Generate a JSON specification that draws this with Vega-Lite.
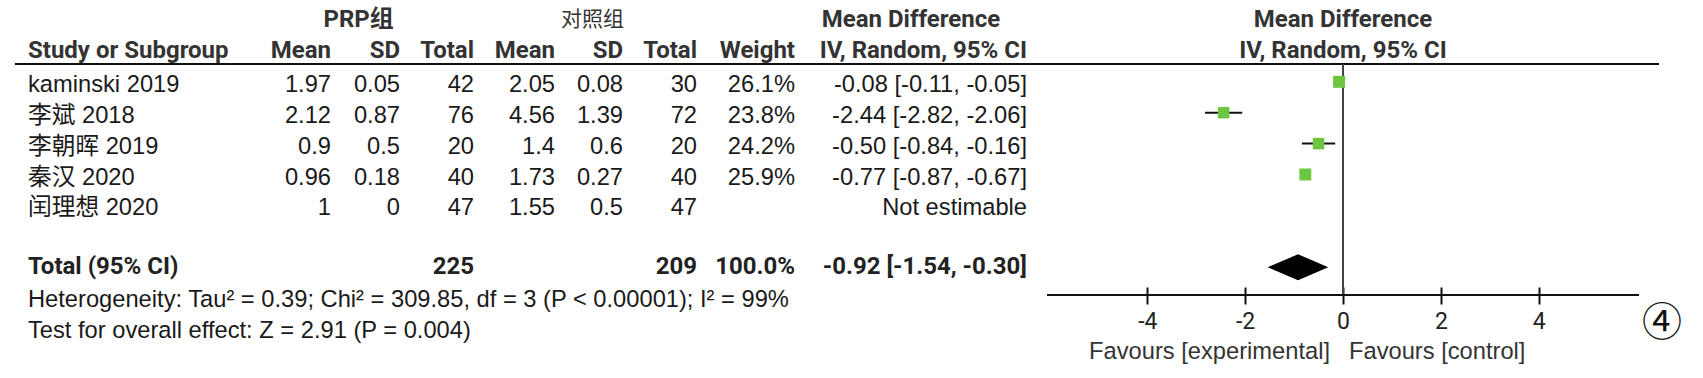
{
  "$schema": "https://vega.github.io/schema/vega-lite/v6.json",
  "width": 1703,
  "height": 287,
  "padding": {"left": 0, "top": 0, "right": 0, "bottom": 91},
  "autosize": {"type": "none"},
  "background": "#ffffff",
  "config": {
    "view": {"stroke": null},
    "text": {"font": "Liberation Sans, Arial, Noto Sans CJK SC, sans-serif", "fontSize": 23.7, "color": "#1a1a1a", "baseline": "middle"}
  },
  "datasets": {
    "one": [{"k": 1}],
    "studies": [
      {"row": 2, "study": "kaminski 2019", "m1": "1.97", "sd1": "0.05", "n1": 42, "m2": "2.05", "sd2": "0.08", "n2": 30, "weight": 0.261, "ci": "-0.08 [-0.11, -0.05]", "md": -0.08, "lo": -0.11, "hi": -0.05},
      {"row": 3, "study": "李斌 2018", "m1": "2.12", "sd1": "0.87", "n1": 76, "m2": "4.56", "sd2": "1.39", "n2": 72, "weight": 0.238, "ci": "-2.44 [-2.82, -2.06]", "md": -2.44, "lo": -2.82, "hi": -2.06},
      {"row": 4, "study": "李朝晖 2019", "m1": "0.9", "sd1": "0.5", "n1": 20, "m2": "1.4", "sd2": "0.6", "n2": 20, "weight": 0.242, "ci": "-0.50 [-0.84, -0.16]", "md": -0.50, "lo": -0.84, "hi": -0.16},
      {"row": 5, "study": "秦汉 2020", "m1": "0.96", "sd1": "0.18", "n1": 40, "m2": "1.73", "sd2": "0.27", "n2": 40, "weight": 0.259, "ci": "-0.77 [-0.87, -0.67]", "md": -0.77, "lo": -0.87, "hi": -0.67},
      {"row": 6, "study": "闰理想 2020", "m1": "1", "sd1": "0", "n1": 47, "m2": "1.55", "sd2": "0.5", "n2": 47, "weight": null, "ci": "Not estimable", "md": null, "lo": null, "hi": null}
    ],
    "total": [
      {"row": 8, "label": "Total (95% CI)", "n1": 225, "n2": 209, "weight": 1.0, "ci": "-0.92 [-1.54, -0.30]", "md": -0.92, "lo": -1.54, "hi": -0.30}
    ],
    "diamond": [
      {"md": -1.54, "top": 8, "bottom": 8},
      {"md": -0.92, "top": 7.58, "bottom": 8.42},
      {"md": -0.30, "top": 8, "bottom": 8}
    ],
    "notes": [
      {"row": 9, "text": "Heterogeneity: Tau² = 0.39; Chi² = 309.85, df = 3 (P < 0.00001); I² = 99%"},
      {"row": 10, "text": "Test for overall effect: Z = 2.91 (P = 0.004)"}
    ]
  },
  "layer": [
    {
      "layer": [
        {"data": {"name": "one"}, "mark": {"type": "rule", "color": "#111111", "strokeWidth": 2},
         "encoding": {"x": {"datum": -1, "type": "quantitative", "scale": {"domain": [-1,0,1,2,3,4,5,6,7,8,9,10], "range": [15,28,331,400,474,555,623,697,795,1027,1659,1662], "nice": false, "zero": false}, "axis": null},
                      "x2": {"datum": 9},
                      "y": {"datum": 1.42, "type": "quantitative", "scale": {"domain": [0, 10], "range": [20, 329], "nice": false, "zero": false}, "axis": null}}},
        {"data": {"name": "one"}, "mark": {"type": "text", "font": "Roboto, Liberation Sans, Noto Sans CJK SC, sans-serif", "fontWeight": "bold", "fontSize": 24, "color": "#333333", "align": "center"},
         "encoding": {"x": {"datum": 1.4, "type": "quantitative", "axis": null}, "y": {"datum": 0, "type": "quantitative", "axis": null}, "text": {"value": "PRP组"}}},
        {"data": {"name": "one"}, "mark": {"type": "text", "font": "Noto Sans CJK SC, sans-serif", "fontWeight": "normal", "fontSize": 21, "color": "#333333", "align": "center"},
         "encoding": {"x": {"datum": 4.55, "type": "quantitative", "axis": null}, "y": {"datum": 0, "type": "quantitative", "axis": null}, "text": {"value": "对照组"}}},
        {"data": {"name": "one"}, "mark": {"type": "text", "font": "Roboto, Liberation Sans, sans-serif", "fontWeight": "bold", "fontSize": 24, "color": "#333333", "align": "center"},
         "encoding": {"x": {"datum": 7.5, "type": "quantitative", "axis": null}, "y": {"datum": 0, "type": "quantitative", "axis": null}, "text": {"value": "Mean Difference"}}},
        {"data": {"name": "one"}, "mark": {"type": "text", "font": "Roboto, Liberation Sans, sans-serif", "fontWeight": "bold", "fontSize": 24, "color": "#333333", "align": "left"},
         "encoding": {"x": {"datum": 0, "type": "quantitative", "axis": null}, "y": {"datum": 1, "type": "quantitative", "axis": null}, "text": {"value": "Study or Subgroup"}}},
        {"data": {"name": "one"}, "mark": {"type": "text", "font": "Roboto, Liberation Sans, sans-serif", "fontWeight": "bold", "fontSize": 24, "color": "#333333", "align": "right"},
         "encoding": {"x": {"datum": 1, "type": "quantitative", "axis": null}, "y": {"datum": 1, "type": "quantitative", "axis": null}, "text": {"value": "Mean"}}},
        {"data": {"name": "one"}, "mark": {"type": "text", "font": "Roboto, Liberation Sans, sans-serif", "fontWeight": "bold", "fontSize": 24, "color": "#333333", "align": "right"},
         "encoding": {"x": {"datum": 2, "type": "quantitative", "axis": null}, "y": {"datum": 1, "type": "quantitative", "axis": null}, "text": {"value": "SD"}}},
        {"data": {"name": "one"}, "mark": {"type": "text", "font": "Roboto, Liberation Sans, sans-serif", "fontWeight": "bold", "fontSize": 24, "color": "#333333", "align": "right"},
         "encoding": {"x": {"datum": 3, "type": "quantitative", "axis": null}, "y": {"datum": 1, "type": "quantitative", "axis": null}, "text": {"value": "Total"}}},
        {"data": {"name": "one"}, "mark": {"type": "text", "font": "Roboto, Liberation Sans, sans-serif", "fontWeight": "bold", "fontSize": 24, "color": "#333333", "align": "right"},
         "encoding": {"x": {"datum": 4, "type": "quantitative", "axis": null}, "y": {"datum": 1, "type": "quantitative", "axis": null}, "text": {"value": "Mean"}}},
        {"data": {"name": "one"}, "mark": {"type": "text", "font": "Roboto, Liberation Sans, sans-serif", "fontWeight": "bold", "fontSize": 24, "color": "#333333", "align": "right"},
         "encoding": {"x": {"datum": 5, "type": "quantitative", "axis": null}, "y": {"datum": 1, "type": "quantitative", "axis": null}, "text": {"value": "SD"}}},
        {"data": {"name": "one"}, "mark": {"type": "text", "font": "Roboto, Liberation Sans, sans-serif", "fontWeight": "bold", "fontSize": 24, "color": "#333333", "align": "right"},
         "encoding": {"x": {"datum": 6, "type": "quantitative", "axis": null}, "y": {"datum": 1, "type": "quantitative", "axis": null}, "text": {"value": "Total"}}},
        {"data": {"name": "one"}, "mark": {"type": "text", "font": "Roboto, Liberation Sans, sans-serif", "fontWeight": "bold", "fontSize": 24, "color": "#333333", "align": "right"},
         "encoding": {"x": {"datum": 7, "type": "quantitative", "axis": null}, "y": {"datum": 1, "type": "quantitative", "axis": null}, "text": {"value": "Weight"}}},
        {"data": {"name": "one"}, "mark": {"type": "text", "font": "Roboto, Liberation Sans, sans-serif", "fontWeight": "bold", "fontSize": 24, "color": "#333333", "align": "right"},
         "encoding": {"x": {"datum": 8, "type": "quantitative", "axis": null}, "y": {"datum": 1, "type": "quantitative", "axis": null}, "text": {"value": "IV, Random, 95% CI"}}},
        {"data": {"name": "studies"}, "mark": {"type": "text", "align": "left", "dy": 3},
         "encoding": {"x": {"datum": 0, "type": "quantitative", "axis": null}, "y": {"field": "row", "type": "quantitative", "axis": null}, "text": {"field": "study", "type": "nominal"}}},
        {"data": {"name": "studies"}, "mark": {"type": "text", "align": "right", "dy": 3},
         "encoding": {"x": {"datum": 1, "type": "quantitative", "axis": null}, "y": {"field": "row", "type": "quantitative", "axis": null}, "text": {"field": "m1", "type": "nominal"}}},
        {"data": {"name": "studies"}, "mark": {"type": "text", "align": "right", "dy": 3},
         "encoding": {"x": {"datum": 2, "type": "quantitative", "axis": null}, "y": {"field": "row", "type": "quantitative", "axis": null}, "text": {"field": "sd1", "type": "nominal"}}},
        {"data": {"name": "studies"}, "mark": {"type": "text", "align": "right", "dy": 3},
         "encoding": {"x": {"datum": 3, "type": "quantitative", "axis": null}, "y": {"field": "row", "type": "quantitative", "axis": null}, "text": {"field": "n1", "type": "nominal"}}},
        {"data": {"name": "studies"}, "mark": {"type": "text", "align": "right", "dy": 3},
         "encoding": {"x": {"datum": 4, "type": "quantitative", "axis": null}, "y": {"field": "row", "type": "quantitative", "axis": null}, "text": {"field": "m2", "type": "nominal"}}},
        {"data": {"name": "studies"}, "mark": {"type": "text", "align": "right", "dy": 3},
         "encoding": {"x": {"datum": 5, "type": "quantitative", "axis": null}, "y": {"field": "row", "type": "quantitative", "axis": null}, "text": {"field": "sd2", "type": "nominal"}}},
        {"data": {"name": "studies"}, "mark": {"type": "text", "align": "right", "dy": 3},
         "encoding": {"x": {"datum": 6, "type": "quantitative", "axis": null}, "y": {"field": "row", "type": "quantitative", "axis": null}, "text": {"field": "n2", "type": "nominal"}}},
        {"data": {"name": "studies"}, "transform": [{"filter": "isValid(datum.weight)"}], "mark": {"type": "text", "align": "right", "dy": 3},
         "encoding": {"x": {"datum": 7, "type": "quantitative", "axis": null}, "y": {"field": "row", "type": "quantitative", "axis": null}, "text": {"field": "weight", "type": "quantitative", "format": ".1%"}}},
        {"data": {"name": "studies"}, "mark": {"type": "text", "align": "right", "dy": 3},
         "encoding": {"x": {"datum": 8, "type": "quantitative", "axis": null}, "y": {"field": "row", "type": "quantitative", "axis": null}, "text": {"field": "ci", "type": "nominal"}}},
        {"data": {"name": "total"}, "mark": {"type": "text", "align": "left", "font": "Roboto, Liberation Sans, sans-serif", "fontWeight": "bold", "fontSize": 24, "color": "#222222"},
         "encoding": {"x": {"datum": 0, "type": "quantitative", "axis": null}, "y": {"field": "row", "type": "quantitative", "axis": null}, "text": {"field": "label", "type": "nominal"}}},
        {"data": {"name": "total"}, "mark": {"type": "text", "align": "right", "font": "Roboto, Liberation Sans, sans-serif", "fontWeight": "bold", "fontSize": 24, "color": "#222222"},
         "encoding": {"x": {"datum": 3, "type": "quantitative", "axis": null}, "y": {"field": "row", "type": "quantitative", "axis": null}, "text": {"field": "n1", "type": "nominal"}}},
        {"data": {"name": "total"}, "mark": {"type": "text", "align": "right", "font": "Roboto, Liberation Sans, sans-serif", "fontWeight": "bold", "fontSize": 24, "color": "#222222"},
         "encoding": {"x": {"datum": 6, "type": "quantitative", "axis": null}, "y": {"field": "row", "type": "quantitative", "axis": null}, "text": {"field": "n2", "type": "nominal"}}},
        {"data": {"name": "total"}, "mark": {"type": "text", "align": "right", "font": "Roboto, Liberation Sans, sans-serif", "fontWeight": "bold", "fontSize": 24, "color": "#222222"},
         "encoding": {"x": {"datum": 7, "type": "quantitative", "axis": null}, "y": {"field": "row", "type": "quantitative", "axis": null}, "text": {"field": "weight", "type": "quantitative", "format": ".1%"}}},
        {"data": {"name": "total"}, "mark": {"type": "text", "align": "right", "font": "Roboto, Liberation Sans, sans-serif", "fontWeight": "bold", "fontSize": 24, "color": "#222222"},
         "encoding": {"x": {"datum": 8, "type": "quantitative", "axis": null}, "y": {"field": "row", "type": "quantitative", "axis": null}, "text": {"field": "ci", "type": "nominal"}}},
        {"data": {"name": "notes"}, "mark": {"type": "text", "align": "left", "dy": 2},
         "encoding": {"x": {"datum": 0, "type": "quantitative", "axis": null}, "y": {"field": "row", "type": "quantitative", "axis": null}, "text": {"field": "text", "type": "nominal"}}},
        {"data": {"name": "one"}, "mark": {"type": "text", "align": "center", "font": "Noto Sans CJK SC, DejaVu Sans, sans-serif", "fontSize": 40, "color": "#111111"},
         "encoding": {"x": {"datum": 10, "type": "quantitative", "axis": null}, "y": {"datum": 9.85, "type": "quantitative", "axis": null}, "text": {"value": "④"}}}
      ]
    },
    {"data": {"name": "studies"}, "transform": [{"filter": "isValid(datum.lo)"}], "mark": {"type": "rule", "color": "#111111", "strokeWidth": 2},
     "encoding": {"x": {"field": "lo", "type": "quantitative", "scale": {"domain": [-6.05, 6.05], "range": [1047, 1639], "nice": false, "zero": false},
                        "axis": {"orient": "bottom", "domain": false, "ticks": true, "tickSize": 17, "tickWidth": 2, "tickColor": "#111111", "values": [-4, -2, 0, 2, 4], "labelExpr": "'' + datum.value", "labelFont": "Roboto, Liberation Sans, sans-serif", "labelFontSize": 23, "labelColor": "#222222", "labelPadding": 17, "labelBaseline": "middle", "grid": false, "title": null, "labelFlush": false, "labelOverlap": false}},
                  "x2": {"field": "hi"}, "y": {"field": "row", "type": "quantitative", "axis": null}}},
    {"data": {"name": "one"}, "mark": {"type": "rule", "color": "#444444", "strokeWidth": 2},
     "encoding": {"x": {"datum": 0, "type": "quantitative", "scale": {"domain": [-6.05, 6.05], "range": [1047, 1639], "nice": false, "zero": false}, "axis": null},
                  "y": {"datum": 1.42, "type": "quantitative", "axis": null}, "y2": {"datum": 8.9}}},
    {"data": {"name": "one"}, "mark": {"type": "rule", "color": "#111111", "strokeWidth": 2},
     "encoding": {"x": {"datum": -6.05, "type": "quantitative", "scale": {"domain": [-6.05, 6.05], "range": [1047, 1639], "nice": false, "zero": false}, "axis": null}, "x2": {"datum": 6.05}, "y": {"datum": 8.9, "type": "quantitative", "axis": null}}},
    {"data": {"name": "studies"}, "transform": [{"filter": "isValid(datum.md)"}], "mark": {"type": "point", "shape": "square", "filled": true, "color": "#6dc63f", "opacity": 1},
     "encoding": {"x": {"field": "md", "type": "quantitative", "scale": {"domain": [-6.05, 6.05], "range": [1047, 1639], "nice": false, "zero": false}, "axis": null}, "y": {"field": "row", "type": "quantitative", "axis": null},
                  "size": {"field": "weight", "type": "quantitative", "scale": {"domain": [0, 0.3], "range": [0, 165]}, "legend": null}}},
    {"data": {"name": "diamond"}, "mark": {"type": "area", "orient": "vertical", "color": "#000000"},
     "encoding": {"x": {"field": "md", "type": "quantitative", "scale": {"domain": [-6.05, 6.05], "range": [1047, 1639], "nice": false, "zero": false}, "axis": null}, "y": {"field": "top", "type": "quantitative", "axis": null}, "y2": {"field": "bottom"}}},
    {"data": {"name": "one"}, "mark": {"type": "text", "font": "Roboto, Liberation Sans, sans-serif", "fontWeight": "bold", "fontSize": 24, "color": "#333333", "align": "center"},
     "encoding": {"x": {"datum": 0, "type": "quantitative", "scale": {"domain": [-6.05, 6.05], "range": [1047, 1639], "nice": false, "zero": false}, "axis": null}, "y": {"datum": 0, "type": "quantitative", "axis": null}, "text": {"value": "Mean Difference"}}},
    {"data": {"name": "one"}, "mark": {"type": "text", "font": "Roboto, Liberation Sans, sans-serif", "fontWeight": "bold", "fontSize": 24, "color": "#333333", "align": "center"},
     "encoding": {"x": {"datum": 0, "type": "quantitative", "scale": {"domain": [-6.05, 6.05], "range": [1047, 1639], "nice": false, "zero": false}, "axis": null}, "y": {"datum": 1, "type": "quantitative", "axis": null}, "text": {"value": "IV, Random, 95% CI"}}},
    {"data": {"name": "one"}, "mark": {"type": "text", "align": "right", "dx": -13, "dy": -8, "color": "#333333"},
     "encoding": {"x": {"datum": 0, "type": "quantitative", "scale": {"domain": [-6.05, 6.05], "range": [1047, 1639], "nice": false, "zero": false}, "axis": null}, "y": {"datum": 11, "type": "quantitative", "axis": null}, "text": {"value": "Favours [experimental]"}}},
    {"data": {"name": "one"}, "mark": {"type": "text", "align": "left", "dx": 6, "dy": -8, "color": "#333333"},
     "encoding": {"x": {"datum": 0, "type": "quantitative", "scale": {"domain": [-6.05, 6.05], "range": [1047, 1639], "nice": false, "zero": false}, "axis": null}, "y": {"datum": 11, "type": "quantitative", "axis": null}, "text": {"value": "Favours [control]"}}}
  ],
  "resolve": {"scale": {"x": "independent"}, "axis": {"x": "independent"}}
}
